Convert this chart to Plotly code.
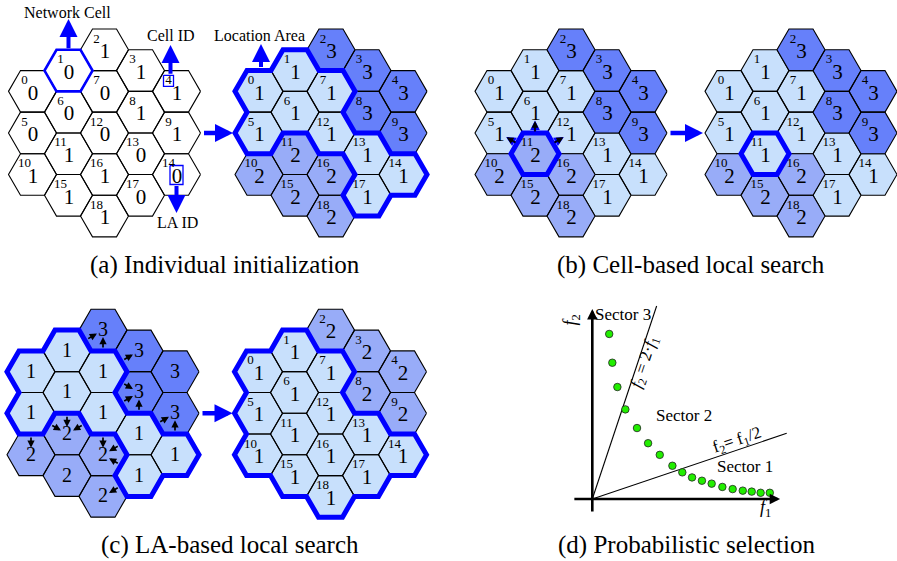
import math
import plotly.graph_objects as go

# ---------------- data ----------------
CELL_IDS = list(range(19))
# LA assignment of every cell (index = cell id) in each of the six grids
LA_A_INIT = [0, 0, 1, 1, 1, 0, 0, 0, 1, 1, 1, 1, 0, 0, 0, 1, 1, 0, 1]
LA_A_GROUPED = [1, 1, 3, 3, 3, 1, 1, 1, 3, 3, 2, 2, 1, 1, 1, 2, 2, 1, 2]
LA_B_BEFORE = [1, 1, 3, 3, 3, 1, 1, 1, 3, 3, 2, 2, 1, 1, 1, 2, 2, 1, 2]
LA_B_AFTER = [1, 1, 3, 3, 3, 1, 1, 1, 3, 3, 2, 1, 1, 1, 1, 2, 2, 1, 2]
LA_C_BEFORE = [1, 1, 3, 3, 3, 1, 1, 1, 3, 3, 2, 2, 1, 1, 1, 2, 2, 1, 2]
LA_C_AFTER = [1, 1, 2, 2, 2, 1, 1, 1, 2, 2, 1, 1, 1, 1, 1, 1, 1, 1, 1]
HIGHLIGHT_CELL_A = 1
CELL_ID_BOX_CELL = 4
LA_ID_BOX_CELL = 14
CELL_SEARCH_CELL = 11
CELL_SEARCH_TARGETS = [6, 5, 12]
LA_SEARCH_MOVES = [(1, 2), (7, 2), (7, 3), (7, 8), (12, 8), (13, 8), (13, 9), (14, 9),
                   (6, 11), (5, 11), (12, 11), (5, 10), (12, 16), (13, 16), (17, 16), (17, 18)]
CAPTIONS = ["(a) Individual initialization", "(b) Cell-based local search",
            "(c) LA-based local search", "(d) Probabilistic selection"]

# panel (d)
F1 = [0.87, 1.03, 1.29, 1.70, 2.30, 2.87, 3.47, 4.12, 4.63, 5.13, 5.64, 6.14, 6.69, 7.22, 7.74, 8.20, 8.66, 9.13]
F2 = [8.49, 7.01, 5.76, 4.61, 3.65, 2.87, 2.27, 1.71, 1.37, 1.11, 0.94, 0.79, 0.62, 0.51, 0.43, 0.38, 0.32, 0.32]
SECTOR_LABELS = ["Sector 1", "Sector 2", "Sector 3"]
SECTOR_F1 = [7.85, 4.72, 1.58]
SECTOR_F2 = [1.66, 4.29, 9.47]
STEEP_F1 = [0.0, 3.31]
STEEP_F2 = [0.0, 9.93]
FLAT_F1 = [0.0, 10.0]
FLAT_F2 = [0.0, 3.38]

# ---------------- style / geometry ----------------
W, HGT = 897, 561
R = 24.0
HH = math.sqrt(3) * R
SERIF = "Liberation Serif, Times New Roman, serif"
BLUE = "#0000ff"
LA_COLORS = {0: "white", 1: "#c8e0fc", 2: "#98acf8", 3: "#6680fa"}
ZIG_ROWS = [[0, 1, 2, 3, 4], [0, 1, 2, 3, 4], [0, 1, 2, 3, 4], [1, 2, 3], [2]]


def cell_offsets():
    out = []
    for r, cols in enumerate(ZIG_ROWS):
        for c in cols:
            out.append(((c - 2) * 1.5 * R, (r + abs(c - 2) / 2) * HH))
    return out


OFFS = cell_offsets()


def centers(origin):
    return [(origin[0] + dx, origin[1] + dy) for dx, dy in OFFS]


def hex_pts(c):
    return [(c[0] + R * math.cos(math.radians(60 * k)), c[1] + R * math.sin(math.radians(60 * k))) for k in range(7)]


def neighbor_index(cs, i, k):
    a = math.radians(30 + 60 * k)
    p = (cs[i][0] + HH * math.cos(a), cs[i][1] + HH * math.sin(a))
    for j, q in enumerate(cs):
        if abs(q[0] - p[0]) < 1 and abs(q[1] - p[1]) < 1:
            return j
    return None


def boundary_edges(cs, members):
    edges = []
    for i in members:
        v = hex_pts(cs[i])
        for k in range(6):
            j = neighbor_index(cs, i, k)
            if j is None or j not in members:
                edges.append((v[k], v[k + 1]))
    return edges


def chain(edges):
    verts = []

    def vid(p):
        for n, q in enumerate(verts):
            if abs(q[0] - p[0]) < 0.5 and abs(q[1] - p[1]) < 0.5:
                return n
        verts.append(p)
        return len(verts) - 1

    E = [(vid(p), vid(q)) for p, q in edges]
    adj = {}
    for n, (a, b) in enumerate(E):
        adj.setdefault(a, []).append(n)
        adj.setdefault(b, []).append(n)
    used = [False] * len(E)
    xs, ys = [], []
    for n in range(len(E)):
        if used[n]:
            continue
        used[n] = True
        path = [E[n][0], E[n][1]]
        cur = E[n][1]
        while True:
            nxt = next((m for m in adj[cur] if not used[m]), None)
            if nxt is None:
                break
            used[nxt] = True
            a, b = E[nxt]
            cur = b if a == cur else a
            path.append(cur)
        if path[-1] == path[0] and len(path) > 2:
            path.append(path[1])
        xs += [verts[p][0] for p in path] + [None]
        ys += [verts[p][1] for p in path] + [None]
    return xs, ys


fig = go.Figure()

GRIDS = [
    dict(la=LA_A_INIT, origin=(104.5, 49.8), filled=False, ids=True, mode="cell", cell=HIGHLIGHT_CELL_A, w=2.6),
    dict(la=LA_A_GROUPED, origin=(331.0, 49.8), filled=True, ids=True, mode="region", w=5),
    dict(la=LA_B_BEFORE, origin=(571.0, 49.8), filled=True, ids=True, mode="cell", cell=CELL_SEARCH_CELL, w=5),
    dict(la=LA_B_AFTER, origin=(801.0, 49.8), filled=True, ids=True, mode="cell", cell=CELL_SEARCH_CELL, w=5),
    dict(la=LA_C_BEFORE, origin=(103.0, 330.1), filled=True, ids=False, mode="region", w=5),
    dict(la=LA_C_AFTER, origin=(330.5, 330.1), filled=True, ids=True, mode="region", w=5),
]

for g in GRIDS:
    cs = centers(g["origin"])
    g["cs"] = cs
    groups = {}
    for i in CELL_IDS:
        key = g["la"][i] if g["filled"] else 0
        groups.setdefault(key, []).append(i)
    for key, members in groups.items():
        xs, ys = [], []
        for i in members:
            pts = hex_pts(cs[i])
            xs += [p[0] for p in pts] + [None]
            ys += [p[1] for p in pts] + [None]
        fig.add_trace(go.Scatter(x=xs, y=ys, mode="lines", fill="toself", fillcolor=LA_COLORS[key],
                                 line=dict(color="black", width=1.1), hoverinfo="skip"))

for g in GRIDS:
    cs = g["cs"]
    if g["mode"] == "region":
        members = [i for i in CELL_IDS if g["la"][i] == 1]
    else:
        members = [g["cell"]]
    xs, ys = chain(boundary_edges(cs, members))
    fig.add_trace(go.Scatter(x=xs, y=ys, mode="lines", line=dict(color=BLUE, width=g["w"]), hoverinfo="skip"))

# boxes around the "Cell ID" and "LA ID" examples in grid (a)
csA = GRIDS[0]["cs"]
bx, by = [], []
for (cx, cy), (hw, hh) in [((csA[CELL_ID_BOX_CELL][0] - 8, csA[CELL_ID_BOX_CELL][1] - 10.5), (5, 5.5)),
                           ((csA[LA_ID_BOX_CELL][0], csA[LA_ID_BOX_CELL][1] + 0.5), (6.5, 9.5))]:
    bx += [cx - hw, cx + hw, cx + hw, cx - hw, cx - hw, None]
    by += [cy - hh, cy - hh, cy + hh, cy + hh, cy - hh, None]
fig.add_trace(go.Scatter(x=bx, y=by, mode="lines", line=dict(color=BLUE, width=1.3), hoverinfo="skip"))

# labels
for g in GRIDS:
    cs = g["cs"]
    if g["ids"]:
        fig.add_trace(go.Scatter(x=[c[0] - 8 for c in cs], y=[c[1] - 10.5 for c in cs], mode="text",
                                 text=[str(i) for i in CELL_IDS],
                                 textfont=dict(family=SERIF, size=13, color="black"), hoverinfo="skip"))
        fig.add_trace(go.Scatter(x=[c[0] + 0.5 for c in cs], y=[c[1] + 3 for c in cs], mode="text",
                                 text=[str(v) for v in g["la"]],
                                 textfont=dict(family=SERIF, size=21, color="black"), hoverinfo="skip"))
    else:
        fig.add_trace(go.Scatter(x=[c[0] for c in cs], y=[c[1] + 1 for c in cs], mode="text",
                                 text=[str(v) for v in g["la"]],
                                 textfont=dict(family=SERIF, size=20, color="black"), hoverinfo="skip"))

ann = []


def arrow(tail, head, color, width, size=1.0, head_style=2, ref=("x", "y")):
    ann.append(dict(x=head[0], y=head[1], ax=tail[0], ay=tail[1], xref=ref[0], yref=ref[1],
                    axref=ref[0], ayref=ref[1], text="", showarrow=True, arrowhead=head_style,
                    arrowsize=size, arrowwidth=width, arrowcolor=color, standoff=0, startstandoff=0))


def text(x, y, s, size, ref=("x", "y"), angle=0, family=SERIF):
    ann.append(dict(x=x, y=y, xref=ref[0], yref=ref[1], text=s, showarrow=False, textangle=angle,
                    font=dict(family=family, size=size, color="black"), xanchor="center", yanchor="middle"))


# (a) annotations
c1 = csA[HIGHLIGHT_CELL_A]
arrow((c1[0], c1[1] - HH / 2), (c1[0], 19), BLUE, 4, 0.9)
text(c1[0] - 1, 12, "Network Cell", 16)
c4 = csA[CELL_ID_BOX_CELL]
arrow((c4[0] - 6, c4[1] - 16), (c4[0] - 6, 45), BLUE, 4, 0.9)
text(c4[0] - 6, 35, "Cell ID", 16)
c14 = csA[LA_ID_BOX_CELL]
arrow((c14[0], c14[1] + 10), (c14[0], 213), BLUE, 4, 0.9)
text(c14[0] + 1, 222, "LA ID", 16)
cA1 = GRIDS[1]["cs"][0]
arrow((cA1[0] + 2, cA1[1] - HH / 2 - 2), (cA1[0] + 2, 44), BLUE, 4, 0.9)
text(cA1[0], 35, "Location Area", 16)

# big transition arrows (level of cell 5)
for gl, gr in [(0, 1), (2, 3), (4, 5)]:
    yl = GRIDS[gl]["cs"][5][1]
    xl = GRIDS[gl]["cs"][4][0] + R + 2
    xr = GRIDS[gr]["cs"][5][0] - R - 2
    arrow((xl, yl), (xr, yl), BLUE, 4.5, 0.8)

# (b) cell-based search arrows
csB = GRIDS[2]["cs"]
src = csB[CELL_SEARCH_CELL]
for t in CELL_SEARCH_TARGETS:
    d = (csB[t][0] - src[0], csB[t][1] - src[1])
    n = math.hypot(*d)
    d = (d[0] / n, d[1] / n)
    mid = (src[0] + d[0] * HH / 2, src[1] + d[1] * HH / 2)
    arrow(mid, (mid[0] + 12.5 * d[0], mid[1] + 12.5 * d[1]), BLUE, 2.4, 0.8)
    arrow(mid, (mid[0] + 12 * d[0], mid[1] + 12 * d[1]), "black", 1.6, 0.85)

# (c) LA-based search arrows
csC = GRIDS[4]["cs"]
for s, t in LA_SEARCH_MOVES:
    a, b = csC[s], csC[t]
    d = (b[0] - a[0], b[1] - a[1])
    n = math.hypot(*d)
    d = (d[0] / n, d[1] / n)
    mid = ((a[0] + b[0]) / 2, (a[1] + b[1]) / 2)
    arrow((mid[0] + 2 * d[0], mid[1] + 2 * d[1]), (b[0] - 7 * d[0], b[1] - 7 * d[1]), "black", 1.7, 0.85)

# captions
CAP_POS = [(225, 265), (691, 265), (230, 545), (686, 545)]
for (x, y), s in zip(CAP_POS, CAPTIONS):
    text(x, y, s, 25)

# ---------------- panel (d) ----------------
UNIT = 19.44
OX, OY = 592.3, 499.0
XR = [-1.2, 10.4]
YR = [-1.2, 10.4]
xdom = [(OX + XR[0] * UNIT) / W, (OX + XR[1] * UNIT) / W]
ydom = [1 - (OY - YR[0] * UNIT) / HGT, 1 - (OY - YR[1] * UNIT) / HGT]
d_ref = ("x2", "y2")

fig.add_trace(go.Scatter(x=STEEP_F1, y=STEEP_F2, mode="lines", line=dict(color="black", width=1.1),
                         xaxis="x2", yaxis="y2", hoverinfo="skip"))
fig.add_trace(go.Scatter(x=FLAT_F1, y=FLAT_F2, mode="lines", line=dict(color="black", width=1.1),
                         xaxis="x2", yaxis="y2", hoverinfo="skip"))
arrow((-1.0, 0), (9.66, 0), "black", 2.6, 0.8, ref=d_ref)
arrow((0, -0.72), (0, 9.77), "black", 2.6, 0.8, ref=d_ref)
fig.add_trace(go.Scatter(x=F1, y=F2, mode="markers", xaxis="x2", yaxis="y2",
                         marker=dict(size=7.5, color="#22ee00", line=dict(color="#222222", width=0.8)),
                         hoverinfo="skip"))
for s, x, y in zip(SECTOR_LABELS, SECTOR_F1, SECTOR_F2):
    text(x, y, s, 17, ref=d_ref)
text(2.72, 7.05, "<i>f</i><sub>2</sub> = 2·<i>f</i><sub>1</sub>", 17, ref=d_ref, angle=-71.6)
text(7.45, 3.0, "f<sub>2</sub>= f<sub>1</sub>/2", 17, ref=d_ref, angle=-18.4)
text(-1.08, 9.2, "<i>f</i><sub>2</sub>", 18, ref=d_ref, angle=-90)
text(8.9, -0.5, "<i>f</i><sub>1</sub>", 18, ref=d_ref)

fig.update_layout(
    width=W, height=HGT, margin=dict(l=0, r=0, t=0, b=0),
    paper_bgcolor="white", plot_bgcolor="white", showlegend=False, hovermode=False,
    xaxis=dict(range=[0, W], domain=[0, 1], visible=False, fixedrange=True),
    yaxis=dict(range=[HGT, 0], domain=[0, 1], visible=False, fixedrange=True),
    xaxis2=dict(range=XR, domain=xdom, visible=False, anchor="y2", fixedrange=True),
    yaxis2=dict(range=YR, domain=ydom, visible=False, anchor="x2", fixedrange=True),
    annotations=ann,
)

fig.write_html("out.html", config={"displayModeBar": False, "staticPlot": True},
               post_script="document.body.style.margin='0';document.body.style.overflow='hidden';")
